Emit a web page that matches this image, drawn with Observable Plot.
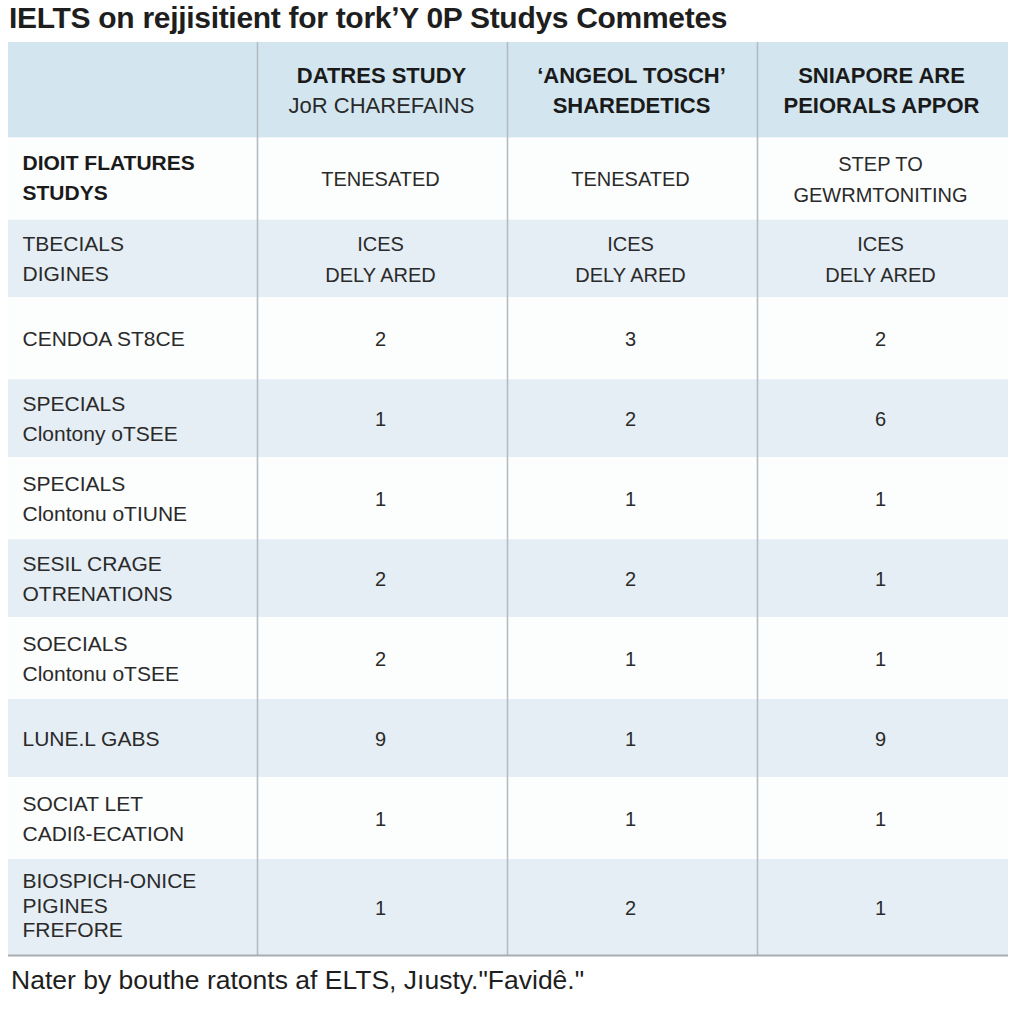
<!DOCTYPE html>
<html>
<head>
<meta charset="utf-8">
<script src="https://cdn.jsdelivr.net/npm/d3@7"></script>
<script src="https://cdn.jsdelivr.net/npm/@observablehq/plot@0.6"></script>
<style>
  html, body { margin: 0; padding: 0; background: #ffffff; width: 1024px; height: 1024px; overflow: hidden; }
  body { font-family: "Liberation Sans", Arial, sans-serif; color: #1e1e1e; }
  #title { height: 38px; line-height: 36px; padding-left: 9px; font-size: 30px; font-weight: bold; white-space: nowrap; letter-spacing: -0.3px; }
  #caption { padding-left: 11px; margin-top: 7px; font-size: 26.5px; line-height: 30px; white-space: nowrap; }
  #chart svg { display: block; }
</style>
</head>
<body>
<div id="title"></div>
<div id="chart"></div>
<div id="caption"></div>
<script>
const titleText = "IELTS on rejjisitient for tork\u02BCY 0P Studys Commetes";
const captionText = "Nater by bouthe ratonts af ELTS, J\u0131usty.\"Favid\u00EA.\"";

// Header (two lines per column; first column is empty)
const headerLine1 = ["", "DATRES STUDY", "\u2018ANGEOL TOSCH\u2019", "SNIAPORE ARE"];
const headerLine2 = ["", "JoR CHAREFAINS", "SHAREDETICS", "PEIORALS APPOR"];
const headerLine2Bold = [false, false, true, true];

// Row labels
const rowLabels = [
  "DIOIT FLATURES\nSTUDYS",
  "TBECIALS\nDIGINES",
  "CENDOA ST8CE",
  "SPECIALS\nClontony oTSEE",
  "SPECIALS\nClontonu oTIUNE",
  "SESIL CRAGE\nOTRENATIONS",
  "SOECIALS\nClontonu oTSEE",
  "LUNE.L GABS",
  "SOCIAT LET\nCADI\u00DF-ECATION",
  "BIOSPICH-ONICE\nPIGINES\nFREFORE"
];
const boldRowLabels = ["DIOIT FLATURES\nSTUDYS"];

// Cell values per column
const datresValues = ["TENESATED", "ICES\nDELY ARED", "2", "1", "1", "2", "2", "9", "1", "1"];
const angeolValues = ["TENESATED", "ICES\nDELY ARED", "3", "2", "1", "2", "1", "1", "1", "2"];
const sniaporeValues = ["STEP TO\nGEWRMTONITING", "ICES\nDELY ARED", "2", "6", "1", "1", "1", "9", "1", "1"];

document.getElementById("title").textContent = titleText;
document.getElementById("caption").textContent = captionText;

// Layout: row weights derived from text line counts
const nLines = s => s.split("\n").length;
const rows = [{key: "header", weight: 1.2}].concat(
  rowLabels.map((l, i) => ({key: "r" + i, weight: nLines(l) >= 3 ? 1.22 : 1, label: l, idx: i}))
);
let acc = 0;
for (const r of rows) { r.y1 = acc; acc += r.weight; r.y2 = acc; r.yc = (r.y1 + r.y2) / 2; }
const total = acc;

const bands = rows.map((r, i) => ({
  y1: r.y1, y2: r.y2,
  fill: i === 0 ? "#d3e6f0" : (i % 2 === 0 ? "#e5eef4" : "#fcfdfd")
}));

const body = rows.slice(1);
const labelData = body.map(r => ({y: r.yc, text: r.label, bold: boldRowLabels.includes(r.label), lines: nLines(r.label)}));

const columnsValues = [datresValues, angeolValues, sniaporeValues];
const cellData = [];
columnsValues.forEach((vals, c) => {
  vals.forEach((v, i) => cellData.push({x: c + 1.5, y: body[i].yc, text: v}));
});

const headerY = rows[0].yc;
const head1 = headerLine1.map((t, c) => ({x: c + 0.5, y: headerY, text: t})).filter(d => d.text);
const head2 = headerLine2.map((t, c) => ({x: c + 0.5, y: headerY, text: t, bold: headerLine2Bold[c]})).filter(d => d.text);

const chart = Plot.plot({
  width: 1024,
  height: 920,
  marginTop: 4,
  marginBottom: 3,
  marginLeft: 8,
  marginRight: 16,
  x: {domain: [0, 4], axis: null},
  y: {domain: [0, total], reverse: true, axis: null},
  style: {fontFamily: "'Liberation Sans', Arial, sans-serif", background: "transparent"},
  marks: [
    Plot.rect(bands, {x1: 0, x2: 4, y1: "y1", y2: "y2", fill: "fill"}),
    Plot.ruleY(rows.slice(1).map(r => r.y1), {x1: 0, x2: 4, stroke: "#ffffff", strokeWidth: 2}),
    Plot.ruleX([1, 2, 3], {y1: 0, y2: total, stroke: "#b4bcc3", strokeWidth: 1.6, dx: -1}),
    Plot.ruleY([total], {x1: 0, x2: 4, stroke: "#a8adb2", strokeWidth: 2}),
    // header text
    Plot.text(head1, {x: "x", y: "y", text: "text", dy: -15, dx: -2, fontSize: 22, fontWeight: "bold", fill: "#1a1a1a"}),
    Plot.text(head2.filter(d => d.bold), {x: "x", y: "y", text: "text", dy: 15, dx: -2, fontSize: 22, fontWeight: "bold", fill: "#1a1a1a"}),
    Plot.text(head2.filter(d => !d.bold), {x: "x", y: "y", text: "text", dy: 15, dx: -2, fontSize: 22, fill: "#2a2a2a"}),
    // row labels
    Plot.text(labelData.filter(d => d.bold), {x: 0, y: "y", text: "text", dx: 14, dy: -3, textAnchor: "start", fontSize: 21, fontWeight: "bold", lineHeight: 1.43, fill: "#1a1a1a"}),
    Plot.text(labelData.filter(d => !d.bold && d.lines < 3), {x: 0, y: "y", text: "text", dx: 14, dy: -2, textAnchor: "start", fontSize: 21, lineHeight: 1.43, fill: "#2a2a2a"}),
    Plot.text(labelData.filter(d => !d.bold && d.lines >= 3), {x: 0, y: "y", text: "text", dx: 14, dy: -2, textAnchor: "start", fontSize: 21, lineHeight: 1.17, fill: "#2a2a2a"}),
    // cells
    Plot.text(cellData, {x: "x", y: "y", text: "text", dx: -3, dy: -2, fontSize: 20, lineHeight: 1.55, fill: "#2a2a2a"})
  ]
});
document.getElementById("chart").appendChild(chart);
</script>
</body>
</html>
